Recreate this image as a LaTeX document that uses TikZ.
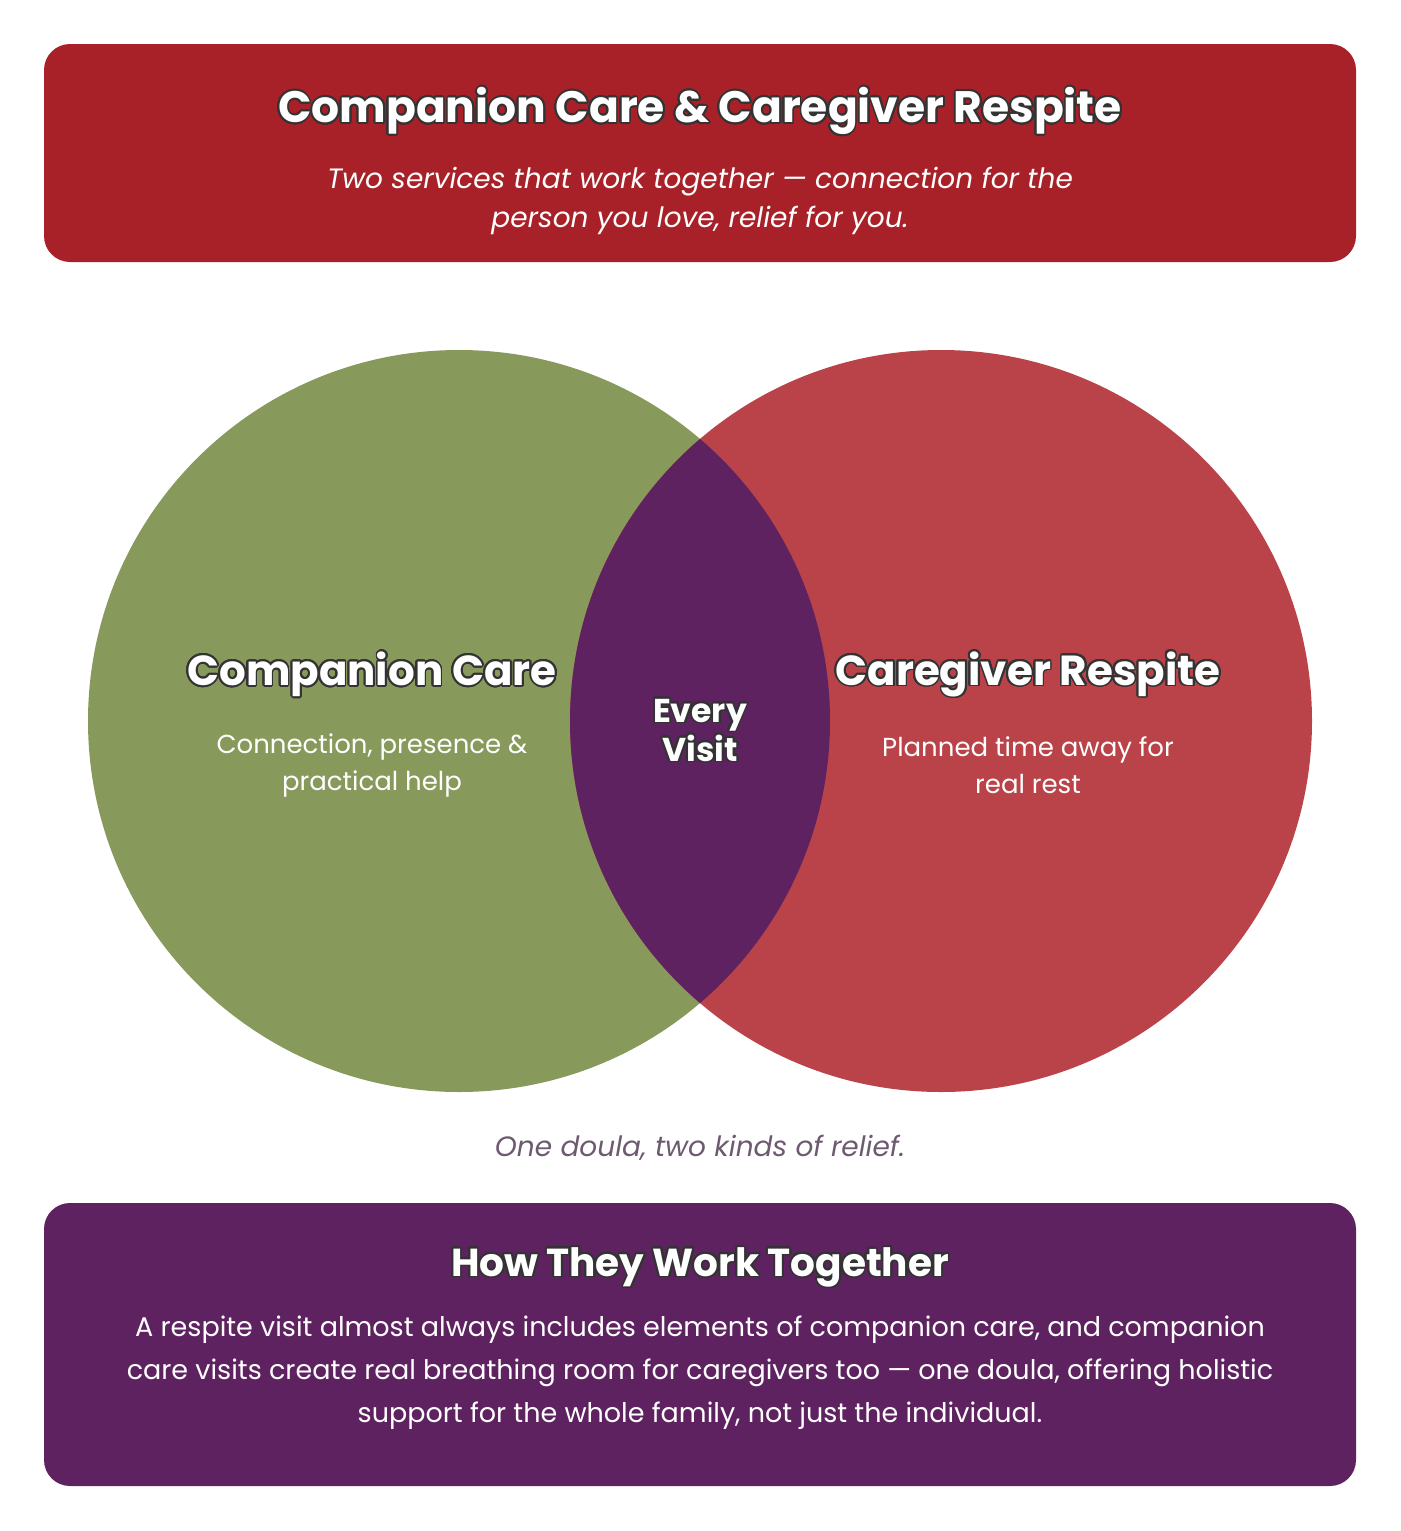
\documentclass[tikz,border=0pt]{standalone}
\usepackage{fontspec}
\setmainfont{Poppins}
\usepackage[copies]{contour}
\contourlength{1.8pt}
\contournumber{24}
\definecolor{boxred}{HTML}{A82028}
\definecolor{leafgreen}{HTML}{88995C}
\definecolor{roseRed}{HTML}{B94349}
\definecolor{plum}{HTML}{5E2260}
\definecolor{mutedText}{HTML}{6E5A70}
\definecolor{inkDark}{HTML}{333333}
\tikzset{
    banner/.style={fill=#1, rounded corners=26pt, draw=none},
    headline/.style={text=white, font=\bfseries\fontsize{#1}{#1}\selectfont},
    bodytext/.style={text=white, align=center, font=\fontsize{26}{37}\selectfont},
}
\newcommand{\outlined}[1]{\contour{inkDark}{#1}}
\begin{document}
\begin{tikzpicture}[x=1pt, y=-1pt]
\useasboundingbox (0,0) rectangle (1400,1531);
% header
\fill[banner=boxred] (44,44) rectangle (1356,262);
\node[headline=44] (title) at (700,112) {\outlined{Companion Care \& Caregiver Respite}};
\node[bodytext, font=\itshape\fontsize{28}{39}\selectfont] (subtitle) at (700,201)
    {Two services that work together — connection for the\\person you love, relief for you.};
% venn
\fill[leafgreen] (459,721) circle (371);
\fill[roseRed] (941,721) circle (371);
\begin{scope}
    \clip (459,721) circle (371);
    \fill[plum] (941,721) circle (371);
\end{scope}
\node[headline=42] (companion) at (372,675) {\outlined{Companion Care}};
\node[bodytext] (companionText) at (372,765) {Connection, presence \&\\practical help};
\node[headline=42] (respite) at (1028,675) {\outlined{Caregiver Respite}};
\node[bodytext] (respiteText) at (1028,765) {Planned time away for\\real rest};
\node[headline=33, align=center, font=\bfseries\fontsize{33}{39}\selectfont] (every) at (700,731)
    {\outlined{Every}\\\outlined{Visit}};
\node[text=mutedText, font=\itshape\fontsize{28}{28}\selectfont] (tagline) at (700,1148)
    {One doula, two kinds of relief.};
% footer
\fill[banner=plum] (44,1203) rectangle (1356,1486);
\node[headline=39] (howTitle) at (700,1268) {\outlined{How They Work Together}};
\node[bodytext, font=\fontsize{27}{43}\selectfont] (howText) at (700,1373)
    {A respite visit almost always includes elements of companion care, and companion\\
     care visits create real breathing room for caregivers too — one doula, offering holistic\\
     support for the whole family, not just the individual.};
\end{tikzpicture}
\end{document}
